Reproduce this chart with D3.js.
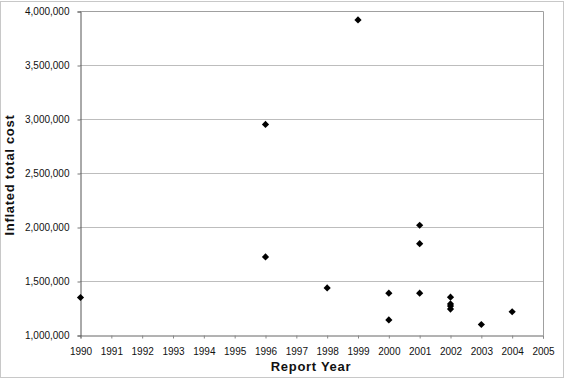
<!DOCTYPE html>
<meta charset="utf-8">
<head>
  <script src="https://d3js.org/d3.v7.min.js"></script>
  <style>
    body { margin: 0; background: #fff; }
    text { font-family: "Liberation Sans", Arial, sans-serif; fill: #111; }
    .tick text { font-size: 10px; }
    .axis-title { font-size: 13px; font-weight: bold; letter-spacing: 0.7px; }
  </style>
</head>
<body>
  <div id="chart"></div>
  <script>
    // values
    var reportYear = [1990, 1996, 1996, 1998, 1999, 2000, 2000, 2001, 2001, 2001, 2002, 2002, 2002, 2002, 2003, 2004];
    var inflatedCost = [1352000, 1728000, 2954000, 1440000, 3922000, 1392000, 1144000, 2021000, 1850000, 1392000, 1355000, 1292000, 1272000, 1245000, 1102000, 1220000];
    var yearTicks = d3.range(1990, 2006);
    var costTicks = [1000000, 1500000, 2000000, 2500000, 3000000, 3500000, 4000000];

    var W = 566, H = 379;
    var margin = { top: 11, right: 23, bottom: 44, left: 80 },
      width = W - margin.left - margin.right,
      height = H - margin.top - margin.bottom;

    var svg = d3.select("#chart")
      .append("svg")
      .attr("width", W)
      .attr("height", H);

    // outer chart border
    svg.append("rect")
      .attr("x", 0.5).attr("y", 1.5)
      .attr("width", 563).attr("height", 376)
      .attr("fill", "none")
      .attr("stroke", "#c8c8c8");

    var g = svg.append("g")
      .attr("transform", "translate(" + margin.left + "," + margin.top + ")");

    var x = d3.scaleLinear().domain([1990, 2005]).range([0.5, width]);
    var y = d3.scaleLinear().domain([1000000, 4000000]).range([height + 0.5, 0.5]);

    // gridlines
    g.selectAll(".grid")
      .data(costTicks.slice(1))
      .enter().append("line")
      .attr("x1", 0).attr("x2", width)
      .attr("y1", function (d) { return y(d); })
      .attr("y2", function (d) { return y(d); })
      .attr("stroke", "#bdbdbd")
      .attr("stroke-width", 1);

    // top and right frame
    g.append("path")
      .attr("d", "M0.5,0.5H" + (width + 0.5) + "V" + (height + 0.5))
      .attr("fill", "none")
      .attr("stroke", "#a0a0a0");

    // x axis
    var xAxis = g.append("g")
      .attr("transform", "translate(0," + (height + 0.5) + ")")
      .call(d3.axisBottom(x).tickValues(yearTicks).tickFormat(d3.format("d")).tickSize(3).tickPadding(9));
    xAxis.select(".domain").attr("stroke", "#666");
    xAxis.selectAll(".tick line").attr("stroke", "#888");

    // y axis
    var yAxis = g.append("g")
      .attr("transform", "translate(0.5,0)")
      .call(d3.axisLeft(y).tickValues(costTicks).tickFormat(d3.format(",")).tickSize(3).tickPadding(8));
    yAxis.select(".domain").attr("stroke", "#555");
    yAxis.selectAll(".tick line").attr("stroke", "#777");

    // points (diamonds)
    var pts = reportYear.map(function (d, i) { return [d, inflatedCost[i]]; });
    g.selectAll(".pt")
      .data(pts)
      .enter().append("path")
      .attr("d", d3.symbol(d3.symbolSquare).size(26))
      .attr("transform", function (d) { return "translate(" + x(d[0]) + "," + y(d[1]) + ") rotate(45)"; })
      .attr("fill", "#000");

    // axis titles
    svg.append("text")
      .attr("class", "axis-title")
      .attr("text-anchor", "middle")
      .attr("x", 311)
      .attr("y", 371)
      .text("Report Year");

    svg.append("text")
      .attr("class", "axis-title")
      .attr("text-anchor", "middle")
      .attr("transform", "translate(14,175) rotate(-90)")
      .text("Inflated total cost");
  </script>
</body>
